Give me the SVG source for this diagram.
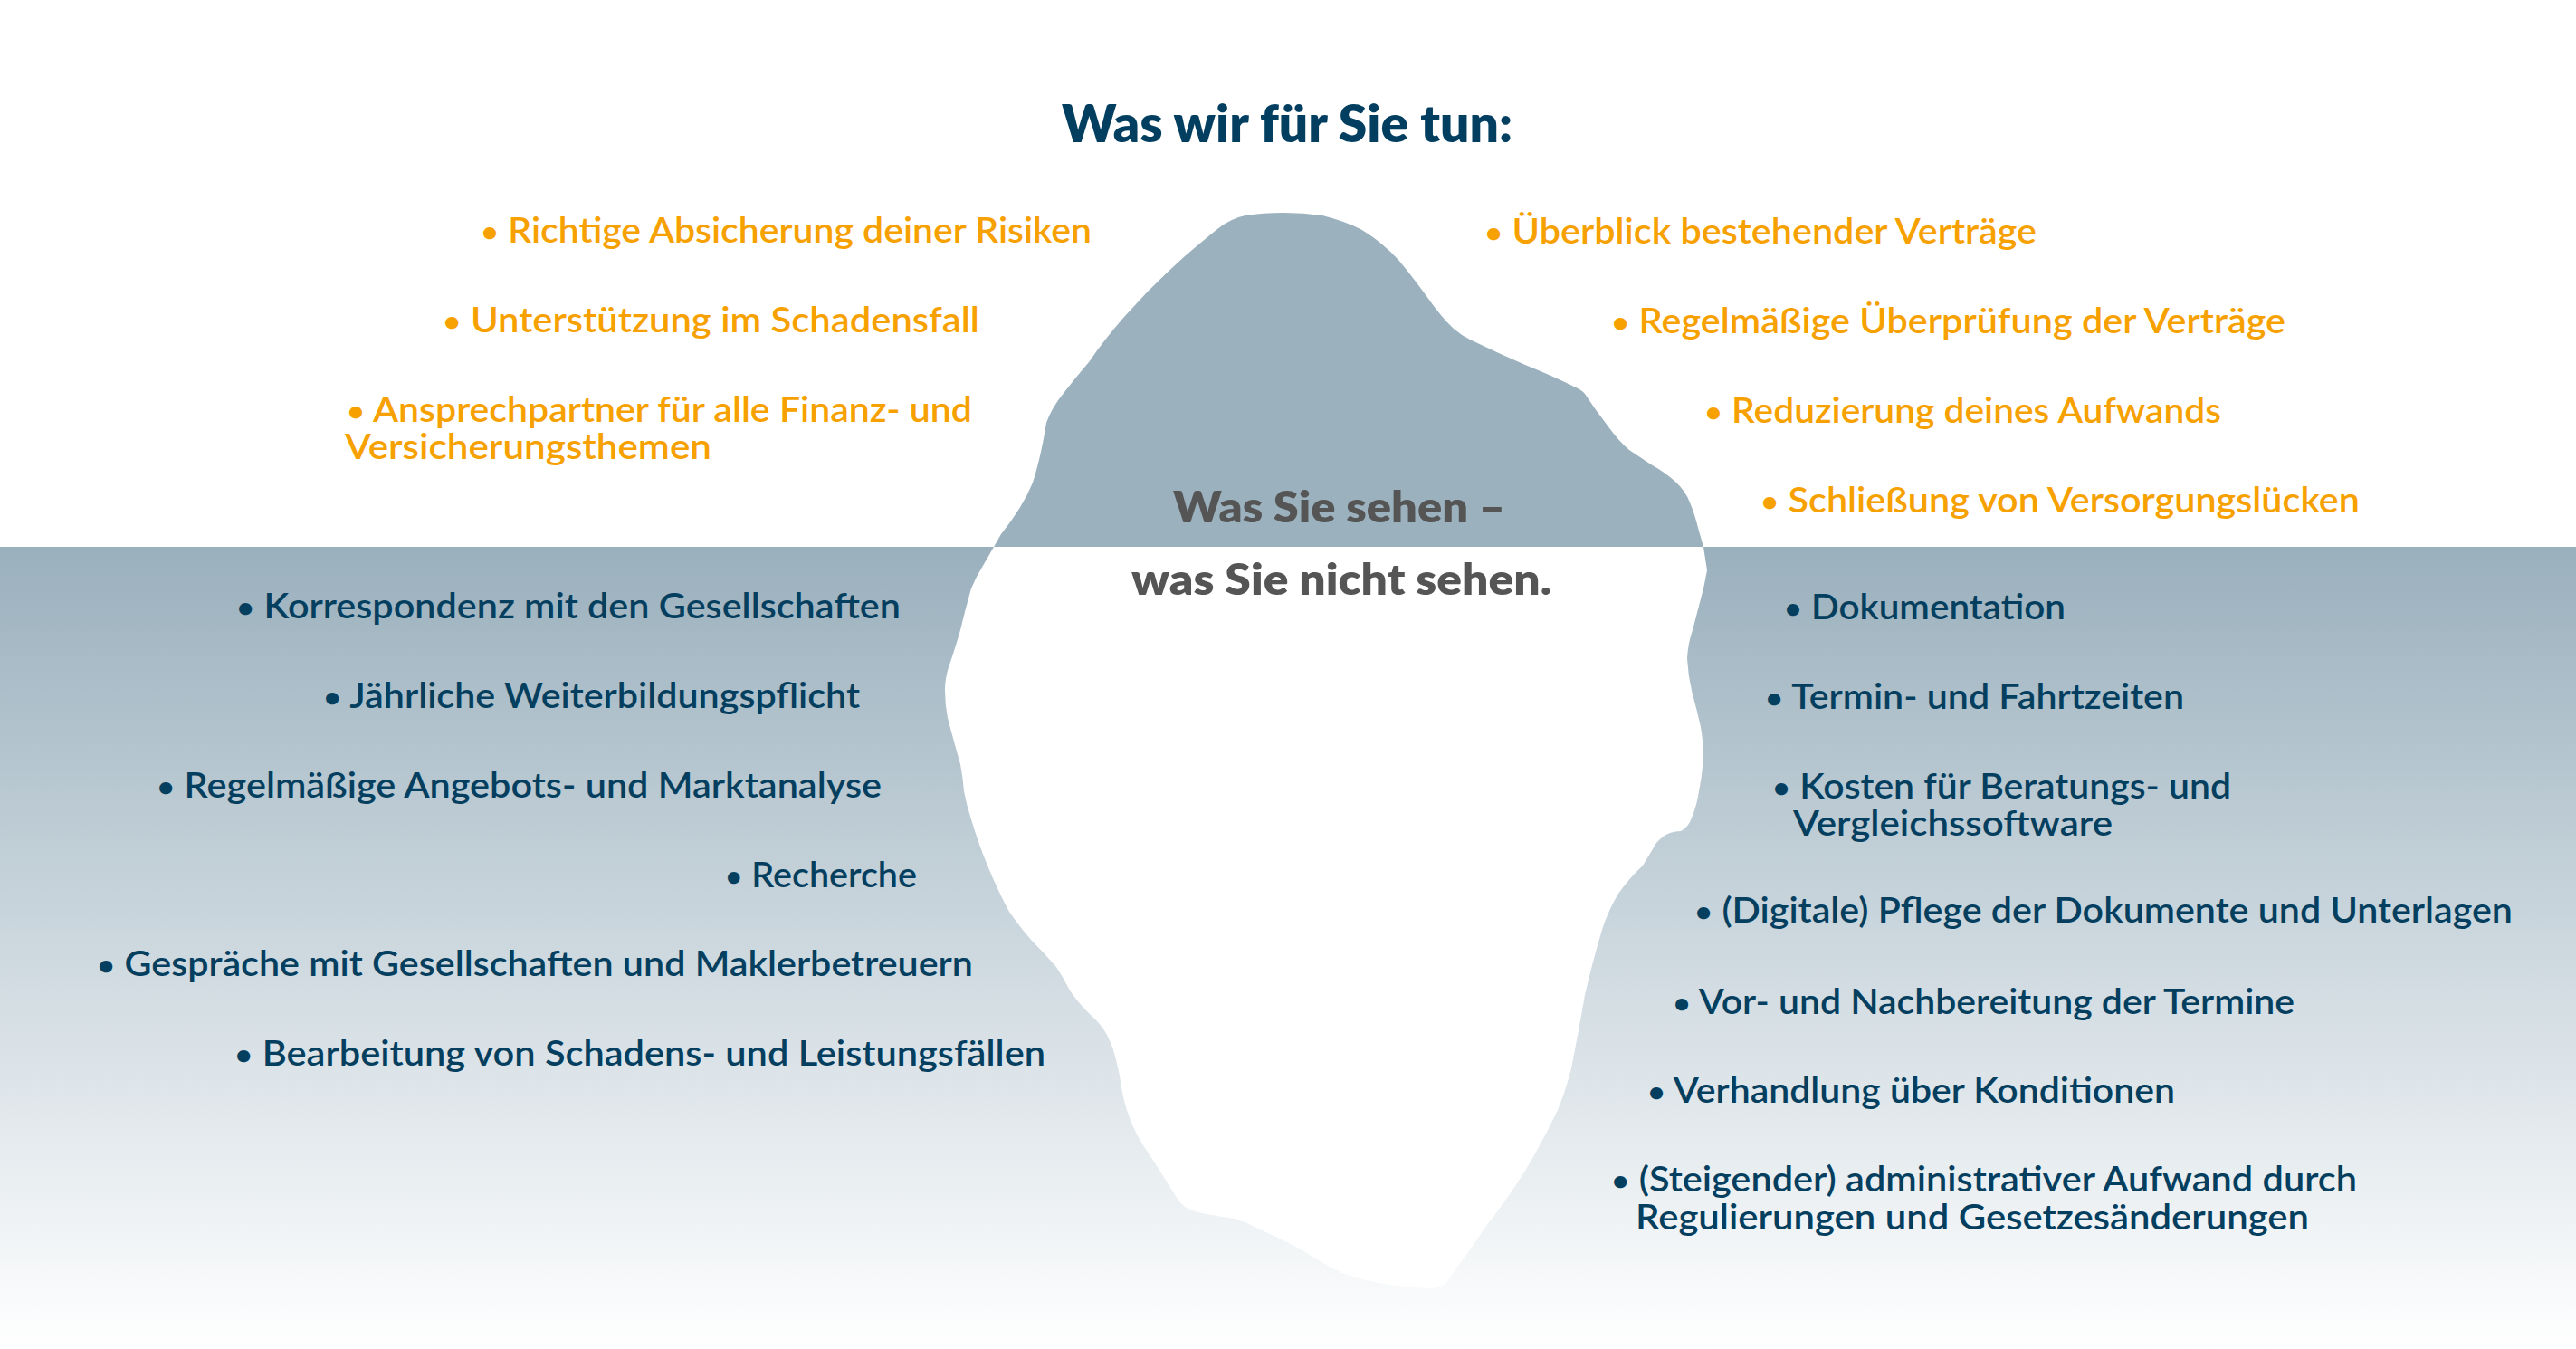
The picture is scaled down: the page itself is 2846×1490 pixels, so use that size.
<svg xmlns="http://www.w3.org/2000/svg" width="2846" height="1490" viewBox="0 0 2846 1490">
<style>
text{font-family:"Lato","Open Sans","Liberation Sans",sans-serif}
.o{fill:#f7a100;font-size:39px;font-weight:600}
.b{fill:#053f5f;font-size:39px;font-weight:600}
.t{fill:#023e5f;font-size:57px;font-weight:800}
.c{fill:#555555;font-size:47px;font-weight:800}
.bl{font-size:33px}
</style>
<defs>
<linearGradient id="water" x1="0" y1="604" x2="0" y2="1490" gradientUnits="userSpaceOnUse">
<stop offset="0" stop-color="#9ab0bd"/>
<stop offset="0.55" stop-color="#d2dce2"/>
<stop offset="1" stop-color="#ffffff"/>
</linearGradient>
</defs>
<rect id="sky" x="0" y="0" width="2846" height="604" fill="#ffffff"/>
<rect id="water-area" x="0" y="604" width="2846" height="886" fill="url(#water)"/>
<g id="iceberg-top">
<path fill="#9bb1be" d="M1098,604 L1106,590 Q1130,560 1141,533 Q1150,505 1156,467 Q1162,450 1176,433 Q1190,415 1203,400 Q1220,375 1242,350 L1267,323 Q1290,300 1309,283 Q1330,265 1345,253 Q1360,241 1376,238 Q1395,235 1418,235 Q1440,235 1461,238 Q1485,244 1503,253 Q1518,262 1527,270 Q1537,278 1545,287 Q1560,305 1576,327 Q1592,350 1606,363 Q1614,370 1624,375 Q1655,390 1685,403 Q1715,415 1739,427 Q1748,431 1751,435 Q1762,452 1776,470 Q1788,487 1800,497 Q1812,505 1824,513 Q1840,522 1851,532 Q1862,542 1867,555 Q1873,570 1876,583 L1882,604 Z"/>
</g>
<g id="iceberg-bottom">
<path fill="#ffffff" d="M1098,604 L1079,637 L1073,650 Q1066,675 1061,696 Q1054,720 1048,737 Q1044,750 1044,762 Q1044,778 1047,793 Q1054,820 1061,844 Q1064,860 1065,874 Q1068,890 1073,905 Q1081,932 1091,956 Q1102,983 1115,1007 Q1126,1023 1139,1038 Q1154,1053 1167,1068 Q1175,1080 1182,1094 Q1193,1110 1206,1122 Q1218,1133 1224,1145 Q1230,1157 1233,1170 Q1237,1186 1239,1201 Q1241,1214 1245,1226 Q1251,1245 1261,1262 Q1280,1290 1297,1318 Q1302,1327 1309,1333 Q1320,1339 1333,1341 Q1350,1344 1364,1346 Q1377,1350 1388,1356 Q1412,1367 1436,1379 Q1460,1395 1485,1407 Q1515,1417 1545,1420 Q1565,1423 1582,1423 Q1592,1422 1597,1418 Q1602,1412 1606,1405 Q1625,1380 1642,1354 Q1665,1325 1685,1293 Q1705,1260 1721,1226 Q1730,1204 1736,1180 Q1744,1140 1751,1099 Q1760,1060 1770,1027 Q1777,1005 1788,987 Q1800,970 1815,956 Q1823,943 1830,931 Q1837,923 1845,920 Q1851,918 1857,918 Q1863,915 1867,908 Q1873,895 1876,880 Q1880,860 1882,839 Q1882,820 1879,803 Q1875,785 1870,767 Q1865,747 1864,727 Q1865,710 1870,696 Q1876,673 1882,650 L1886,630 L1882,604 Z"/>
</g>
<g id="connectors"></g>
<g id="title"><text class="t" x="1173" y="157" textLength="498" lengthAdjust="spacingAndGlyphs">Was wir für Sie tun:</text></g>
<g id="center-label">
<text class="c" x="1296" y="577" textLength="367" lengthAdjust="spacingAndGlyphs">Was Sie sehen –</text>
<text class="c" x="1250" y="657" textLength="464" lengthAdjust="spacingAndGlyphs">was Sie nicht sehen.</text>
</g>
<g id="visible-left">
<g id="v1"><text class="o" x="531" y="268" textLength="675" lengthAdjust="spacingAndGlyphs"><tspan class="bl">•</tspan> Richtige Absicherung deiner Risiken</text></g>
<g id="v2"><text class="o" x="489" y="367" textLength="593" lengthAdjust="spacingAndGlyphs"><tspan class="bl">•</tspan> Unterstützung im Schadensfall</text></g>
<g id="v3"><text class="o"><tspan x="383" y="466" textLength="691" lengthAdjust="spacingAndGlyphs"><tspan class="bl">•</tspan> Ansprechpartner für alle Finanz- und</tspan><tspan x="381" y="507" textLength="405" lengthAdjust="spacingAndGlyphs">Versicherungsthemen</tspan></text></g>
</g>
<g id="visible-right">
<g id="v4"><text class="o" x="1640" y="269" textLength="610" lengthAdjust="spacingAndGlyphs"><tspan class="bl">•</tspan> Überblick bestehender Verträge</text></g>
<g id="v5"><text class="o" x="1780" y="368" textLength="745" lengthAdjust="spacingAndGlyphs"><tspan class="bl">•</tspan> Regelmäßige Überprüfung der Verträge</text></g>
<g id="v6"><text class="o" x="1883" y="467" textLength="571" lengthAdjust="spacingAndGlyphs"><tspan class="bl">•</tspan> Reduzierung deines Aufwands</text></g>
<g id="v7"><text class="o" x="1945" y="566" textLength="662" lengthAdjust="spacingAndGlyphs"><tspan class="bl">•</tspan> Schließung von Versorgungslücken</text></g>
</g>
<g id="hidden-left">
<g id="h1"><text class="b" x="261" y="683" textLength="734" lengthAdjust="spacingAndGlyphs"><tspan class="bl">•</tspan> Korrespondenz mit den Gesellschaften</text></g>
<g id="h2"><text class="b" x="357" y="782" textLength="593" lengthAdjust="spacingAndGlyphs"><tspan class="bl">•</tspan> Jährliche Weiterbildungspflicht</text></g>
<g id="h3"><text class="b" x="173" y="881" textLength="801" lengthAdjust="spacingAndGlyphs"><tspan class="bl">•</tspan> Regelmäßige Angebots- und Marktanalyse</text></g>
<g id="h4"><text class="b" x="801" y="980" textLength="212" lengthAdjust="spacingAndGlyphs"><tspan class="bl">•</tspan> Recherche</text></g>
<g id="h5"><text class="b" x="107" y="1078" textLength="968" lengthAdjust="spacingAndGlyphs"><tspan class="bl">•</tspan> Gespräche mit Gesellschaften und Maklerbetreuern</text></g>
<g id="h6"><text class="b" x="259" y="1177" textLength="896" lengthAdjust="spacingAndGlyphs"><tspan class="bl">•</tspan> Bearbeitung von Schadens- und Leistungsfällen</text></g>
</g>
<g id="hidden-right">
<g id="h7"><text class="b" x="1971" y="684" textLength="311" lengthAdjust="spacingAndGlyphs"><tspan class="bl">•</tspan> Dokumentation</text></g>
<g id="h8"><text class="b" x="1950" y="783" textLength="463" lengthAdjust="spacingAndGlyphs"><tspan class="bl">•</tspan> Termin- und Fahrtzeiten</text></g>
<g id="h9"><text class="b"><tspan x="1958" y="882" textLength="507" lengthAdjust="spacingAndGlyphs"><tspan class="bl">•</tspan> Kosten für Beratungs- und</tspan><tspan x="1981" y="923" textLength="353" lengthAdjust="spacingAndGlyphs">Vergleichssoftware</tspan></text></g>
<g id="h10"><text class="b" x="1872" y="1019" textLength="904" lengthAdjust="spacingAndGlyphs"><tspan class="bl">•</tspan> (Digitale) Pflege der Dokumente und Unterlagen</text></g>
<g id="h11"><text class="b" x="1848" y="1120" textLength="687" lengthAdjust="spacingAndGlyphs"><tspan class="bl">•</tspan> Vor- und Nachbereitung der Termine</text></g>
<g id="h12"><text class="b" x="1820" y="1218" textLength="583" lengthAdjust="spacingAndGlyphs"><tspan class="bl">•</tspan> Verhandlung über Konditionen</text></g>
<g id="h13"><text class="b"><tspan x="1780" y="1316" textLength="824" lengthAdjust="spacingAndGlyphs"><tspan class="bl">•</tspan> (Steigender) administrativer Aufwand durch</tspan><tspan x="1807" y="1358" textLength="744" lengthAdjust="spacingAndGlyphs">Regulierungen und Gesetzesänderungen</tspan></text></g>
</g>
</svg>
